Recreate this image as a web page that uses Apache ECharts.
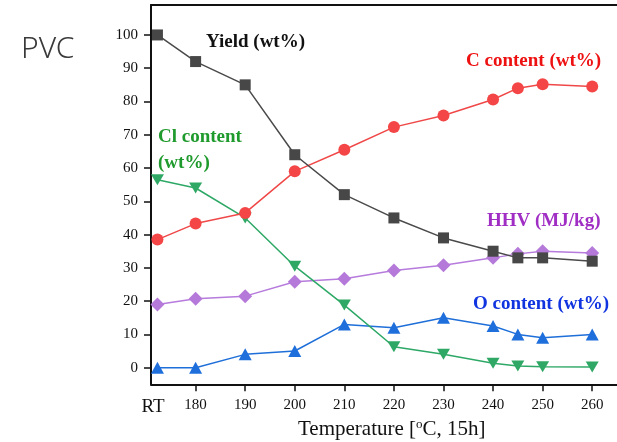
<!DOCTYPE html>
<html>
<head>
<meta charset="utf-8">
<script src="https://cdn.jsdelivr.net/npm/echarts@6/dist/echarts.min.js"></script>
<style>
  html, body { margin: 0; padding: 0; background: #fff; }
  #chart { width: 617px; height: 442px; }
</style>
</head>
<body>
<div id="chart"></div>
<script>
// Carbonization temperature (RT plotted just left of 180 °C)
const temperatures = [172.3, 180, 190, 200, 210, 220, 230, 240, 245, 250, 260];
const xTickValues = [180, 190, 200, 210, 220, 230, 240, 250, 260];
const xLabelValues = [171.4, 180, 190, 200, 210, 220, 230, 240, 250, 260];
const yTickValues = [0, 10, 20, 30, 40, 50, 60, 70, 80, 90, 100];

const yieldWt   = [100, 92, 85, 64, 52, 45, 39, 35, 33, 33, 32];
const carbonWt  = [38.5, 43.3, 46.5, 59, 65.5, 72.3, 75.8, 80.6, 84, 85.2, 84.5];
const chlorineWt = [56.5, 54, 45, 30.5, 18.8, 6.3, 4, 1.3, 0.5, 0.3, 0.2];
const hhv       = [19, 20.7, 21.5, 25.8, 26.7, 29.2, 30.8, 33, 34.2, 35, 34.5];
const oxygenWt  = [0, 0, 4, 5, 13, 12, 15, 12.5, 10, 9, 10];

const serif = '"Liberation Serif", "DejaVu Serif", serif';

function pairs(vals) {
  return temperatures.map((t, i) => [t, vals[i]]);
}

function lineSeries(name, vals, symbol, size, lineColor, markColor, z) {
  return {
    name: name,
    type: 'line',
    data: pairs(vals),
    symbol: symbol,
    symbolSize: size,
    showAllSymbol: true,
    z: z,
    lineStyle: { color: lineColor, width: 1.5 },
    itemStyle: { color: markColor, borderWidth: 0 },
    emphasis: { disabled: true }
  };
}

const chart = echarts.init(document.getElementById('chart'), null, { renderer: 'canvas' });

chart.setOption({
  animation: false,
  backgroundColor: '#ffffff',
  grid: { left: 151, top: 5, width: 470, height: 379.3, containLabel: false },
  xAxis: [
    {
      type: 'value',
      min: 171,
      max: 265,
      position: 'bottom',
      axisLine: { show: true, onZero: false, lineStyle: { color: '#111', width: 2 } },
      axisTick: { show: true, inside: false, length: 7, lineStyle: { color: '#111', width: 1.5 }, customValues: xTickValues },
      axisLabel: {
        show: true,
        margin: 13,
        color: '#111',
        fontFamily: serif,
        fontSize: 15,
        customValues: xLabelValues,
        formatter: function (v) {
          return v < 175 ? '{rt|RT}' : String(v);
        },
        rich: {
          rt: { fontFamily: serif, fontSize: 19, color: '#111', padding: [0, 0, 2, 0] }
        }
      },
      splitLine: { show: false }
    },
    {
      type: 'value',
      min: 171,
      max: 265,
      position: 'top',
      axisLine: { show: true, onZero: false, lineStyle: { color: '#111', width: 2 } },
      axisTick: { show: false },
      axisLabel: { show: false },
      splitLine: { show: false }
    }
  ],
  yAxis: {
    type: 'value',
    min: -5,
    max: 109,
    axisLine: { show: true, onZero: false, lineStyle: { color: '#111', width: 2 } },
    axisTick: { show: true, inside: false, length: 7, lineStyle: { color: '#111', width: 1.5 }, customValues: yTickValues },
    axisLabel: {
      margin: 13,
      color: '#111',
      fontFamily: serif,
      fontSize: 15,
      customValues: yTickValues
    },
    splitLine: { show: false }
  },
  series: [
    lineSeries('Yield (wt%)', yieldWt, 'rect', 11, '#4a4a4a', '#474747', 5),
    lineSeries('C content (wt%)', carbonWt, 'circle', 12, '#f04848', '#f44646', 4),
    lineSeries('Cl content (wt%)', chlorineWt, 'path://M0,0 L10,0 L5,9 Z', [13, 11], '#2ea866', '#2fa865', 3),
    lineSeries('HHV (MJ/kg)', hhv, 'diamond', 14, '#b67bdc', '#b57ad9', 2),
    lineSeries('O content (wt%)', oxygenWt, 'triangle', [13, 12], '#1f6fd9', '#1e6fdb', 1)
  ],
  graphic: [
    { type: 'text', left: 21, top: 34,
      style: { text: 'PVC', font: '300 30px "Noto Sans", sans-serif', fill: '#3a3a3a' } },
    { type: 'text', left: 206, top: 33,
      style: { text: 'Yield (wt%)', font: 'bold 19px ' + serif, fill: '#111' } },
    { type: 'text', left: 466, top: 52,
      style: { text: 'C content (wt%)', font: 'bold 19px ' + serif, fill: '#ee1111' } },
    { type: 'text', left: 158, top: 124,
      style: { text: 'Cl content\n(wt%)', font: 'bold 19px ' + serif, fill: '#1f9a2c', lineHeight: 26 } },
    { type: 'text', left: 487, top: 212,
      style: { text: 'HHV (MJ/kg)', font: 'bold 19px ' + serif, fill: '#a02ec4' } },
    { type: 'text', left: 473, top: 295,
      style: { text: 'O content (wt%)', font: 'bold 19px ' + serif, fill: '#1034e0' } },
    { type: 'text', left: 298, top: 418,
      style: {
        text: 'Temperature [{sup|o}C, 15h]',
        font: '21px ' + serif,
        fill: '#111',
        rich: { sup: { fontFamily: serif, fontSize: 13, verticalAlign: 'top', padding: [0, 0, 10, 0], fill: '#111' } }
      } }
  ]
});
</script>
</body>
</html>
